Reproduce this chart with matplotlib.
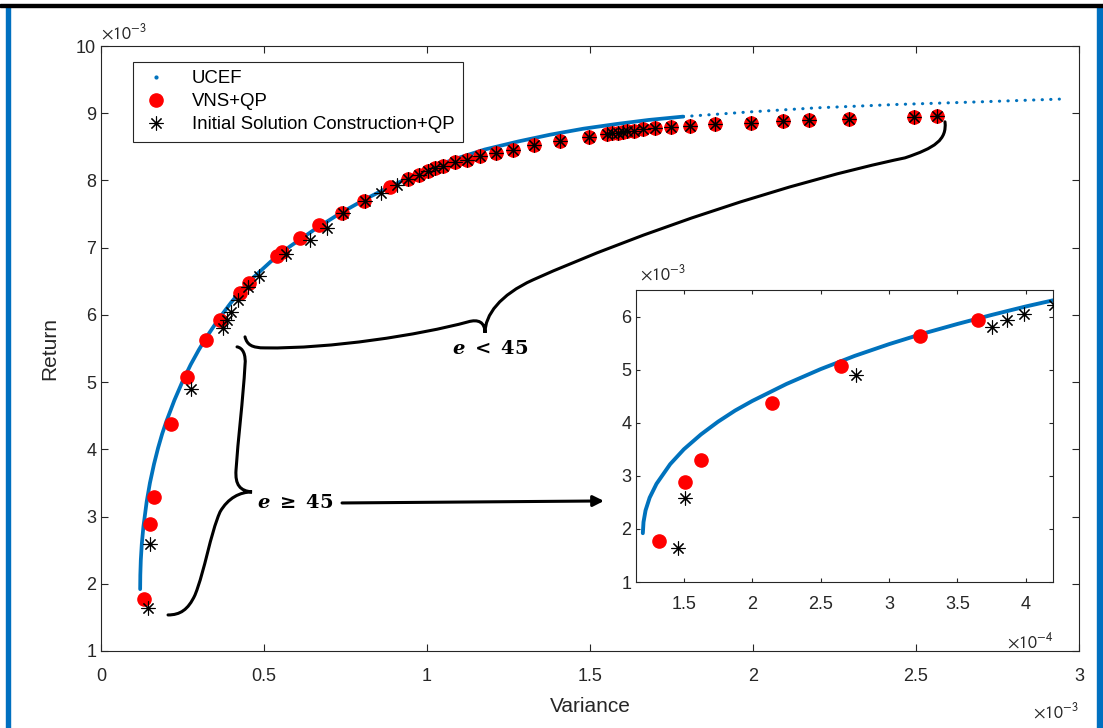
import numpy as np
import matplotlib.pyplot as plt
from matplotlib.path import Path
from matplotlib.patches import PathPatch, Rectangle
from matplotlib.lines import Line2D
from matplotlib.ticker import FuncFormatter

plt.rcParams['font.family'] = ['Liberation Sans', 'DejaVu Sans']
plt.rcParams['mathtext.fontset'] = 'custom'
plt.rcParams['mathtext.rm'] = 'DejaVu Serif:bold'
plt.rcParams['mathtext.it'] = 'DejaVu Serif:bold:italic'
plt.rcParams['mathtext.bf'] = 'DejaVu Serif:bold'

# UCEF frontier (variance, return)
ucef_var = np.array([0.1200, 0.1205, 0.1220, 0.1250, 0.1300, 0.1400, 0.1500, 0.1625,
                     0.1750, 0.1875, 0.2000, 0.2250, 0.2500, 0.2750, 0.3000, 0.3250,
                     0.3500, 0.3750, 0.4000, 0.4207, 0.457, 0.520, 0.580, 0.655,
                     0.733, 0.810, 0.887, 0.989, 1.080, 1.177, 1.280, 1.377,
                     1.480, 1.582, 1.680, 1.786, 1.991, 2.195, 2.440, 2.700,
                     2.940]) * 1e-3
ucef_ret = np.array([1.92, 2.13, 2.35, 2.59, 2.85, 3.22, 3.50, 3.78,
                     4.02, 4.23, 4.41, 4.73, 5.01, 5.26, 5.48, 5.68,
                     5.86, 6.03, 6.19, 6.31, 6.51, 6.79, 7.02, 7.27,
                     7.51, 7.72, 7.91, 8.14, 8.31, 8.46, 8.58, 8.68,
                     8.77, 8.84, 8.90, 8.95, 9.02, 9.08, 9.13, 9.17,
                     9.21]) * 1e-3
solid_end = 36  # dense part drawn as a line, rest as dots

# VNS+QP
vns_var = np.array([0.132, 0.151, 0.1625, 0.2145, 0.265, 0.323, 0.365, 0.426, 0.455,
                    0.541, 0.554, 0.610, 0.670, 0.738, 0.808, 0.887, 0.943, 0.975,
                    1.002, 1.025, 1.050, 1.086, 1.122, 1.162, 1.211, 1.264, 1.328,
                    1.409, 1.497, 1.551, 1.568, 1.585, 1.600, 1.615, 1.634, 1.664,
                    1.700, 1.748, 1.806, 1.884, 1.995, 2.091, 2.173, 2.296, 2.494,
                    2.565]) * 1e-3
vns_ret = np.array([1.78, 2.89, 3.29, 4.38, 5.07, 5.625, 5.93, 6.33, 6.47,
                    6.87, 6.94, 7.14, 7.34, 7.52, 7.70, 7.90, 8.02, 8.08,
                    8.14, 8.18, 8.22, 8.27, 8.31, 8.36, 8.41, 8.46, 8.52,
                    8.58, 8.65, 8.69, 8.70, 8.71, 8.72, 8.73, 8.74, 8.76,
                    8.78, 8.79, 8.81, 8.84, 8.86, 8.89, 8.90, 8.92, 8.95,
                    8.96]) * 1e-3

# Initial Solution Construction+QP
isc_var = np.array([0.1456, 0.1507, 0.2761, 0.3756, 0.3861, 0.3988, 0.4207, 0.452,
                    0.485, 0.567, 0.641, 0.692, 0.742, 0.810, 0.858, 0.909, 0.943,
                    0.975, 1.002, 1.025, 1.050, 1.086, 1.122, 1.162, 1.211, 1.264,
                    1.328, 1.409, 1.497, 1.551, 1.568, 1.585, 1.600, 1.615, 1.634,
                    1.664, 1.700, 1.748, 1.806, 1.884, 1.995, 2.091, 2.173, 2.296,
                    2.494, 2.565]) * 1e-3
isc_ret = np.array([1.64, 2.59, 4.90, 5.81, 5.93, 6.04, 6.22, 6.41,
                    6.58, 6.91, 7.12, 7.30, 7.51, 7.69, 7.81, 7.93, 8.02,
                    8.08, 8.14, 8.18, 8.22, 8.27, 8.31, 8.36, 8.41, 8.46,
                    8.52, 8.58, 8.65, 8.69, 8.70, 8.71, 8.72, 8.73, 8.74,
                    8.76, 8.78, 8.79, 8.81, 8.84, 8.86, 8.89, 8.90, 8.92,
                    8.95, 8.96]) * 1e-3

blue = '#0072BD'
grey = '#262626'
ast = (8, 2, 0)

fig = plt.figure(figsize=(11.03, 7.28), dpi=100)

# frame around the figure
fig.patches.append(Rectangle((0.0054, 0), 0.0036, 0.99, transform=fig.transFigure,
                             color='#0070C0', zorder=0))
fig.patches.append(Rectangle((0.9950, 0), 0.0050, 0.99, transform=fig.transFigure,
                             color='#0070C0', zorder=0))
fig.patches.append(Rectangle((0, 0.990), 1, 0.0045, transform=fig.transFigure,
                             color='black', zorder=0))


def style_axes(ax, size, ticklen):
    for s in ax.spines.values():
        s.set_color(grey)
        s.set_linewidth(0.8)
    ax.tick_params(direction='in', top=True, right=True, colors=grey,
                   labelsize=size, length=ticklen, width=0.8)


ax = fig.add_axes([0.0916, 0.1058, 0.8866, 0.831])
ax.plot(ucef_var[:solid_end], ucef_ret[:solid_end], color=blue, lw=2.7,
        solid_capstyle='round', solid_joinstyle='round', zorder=2)
ax.plot(ucef_var[solid_end - 1:], ucef_ret[solid_end - 1:], color=blue, lw=2.2,
        linestyle=(0, (0.1, 2.7)), dash_capstyle='round', zorder=2)
ax.plot(vns_var, vns_ret, 'o', color='red', ms=9.5, mec='red', zorder=3)
ax.plot(isc_var, isc_ret, linestyle='none', marker=ast, color='black', ms=10,
        mew=0.8, zorder=4)
ax.set_xlim(0, 3e-3)
ax.set_ylim(1e-3, 10e-3)
ax.set_xticks(np.arange(0, 3.01e-3, 0.5e-3))
ax.set_yticks(np.arange(1e-3, 10.01e-3, 1e-3))
ax.xaxis.set_major_formatter(FuncFormatter(lambda x, p: f'{x * 1e3:g}'))
ax.yaxis.set_major_formatter(FuncFormatter(lambda y, p: f'{y * 1e3:g}'))
style_axes(ax, 13, 5)
ax.tick_params(axis='x', pad=12)
ax.set_xlabel('Variance', fontsize=15, color=grey, labelpad=9)
ax.set_ylabel('Return', fontsize=15, color=grey, labelpad=12)
ax.text(0.0, 1.005, r'$\times10^{-3}$', transform=ax.transAxes, ha='left', va='bottom',
        fontsize=13, color=grey, math_fontfamily='stixsans')
ax.text(1.0, -0.085, r'$\times10^{-3}$', transform=ax.transAxes, ha='right', va='top',
        fontsize=13, color=grey, math_fontfamily='stixsans')

handles = [Line2D([], [], marker='.', color=blue, ls='none', ms=4),
           Line2D([], [], marker='o', color='red', ls='none', ms=9.5),
           Line2D([], [], marker=ast, color='black', ls='none', ms=10, mew=0.8)]
leg = ax.legend(handles, ['UCEF', 'VNS+QP', 'Initial Solution Construction+QP'],
                loc='upper left', bbox_to_anchor=(0.0327, 0.9736), borderaxespad=0,
                fontsize=13.4, frameon=True, fancybox=False, framealpha=1,
                edgecolor=grey, handlelength=1.6, handletextpad=1.1,
                labelspacing=0.32, borderpad=0.45)
leg.get_frame().set_linewidth(0.8)

# curly braces and labels (main axes data coordinates, units of 1e-3)
M, C = Path.MOVETO, Path.CURVE4
brace_lt = [(0.4417, 5.673), (0.4479, 5.554), (0.4632, 5.509), (0.5031, 5.509),
            (0.7025, 5.494), (0.9785, 5.702), (1.1258, 5.896),
            (1.1564, 5.940), (1.1779, 5.896), (1.1779, 5.732),
            (1.1779, 6.000), (1.2239, 6.298), (1.3252, 6.521),
            (1.6534, 7.235), (2.1135, 7.979), (2.4663, 8.336),
            (2.5583, 8.485), (2.5951, 8.604), (2.5890, 8.872)]
brace_ge = [(0.4172, 5.524), (0.4356, 5.509), (0.4448, 5.405), (0.4417, 5.256),
            (0.4356, 4.735), (0.4202, 4.140), (0.4141, 3.693),
            (0.4110, 3.470), (0.4264, 3.381), (0.4632, 3.366),
            (0.4264, 3.366), (0.3896, 3.277), (0.3650, 3.068),
            (0.3344, 2.726), (0.3190, 2.205), (0.2883, 1.833),
            (0.2669, 1.610), (0.2423, 1.536), (0.2055, 1.536)]
for pts in (brace_lt, brace_ge):
    verts = np.array(pts) * 1e-3
    codes = [M] + [C] * (len(pts) - 1)
    ax.add_patch(PathPatch(Path(verts, codes), fill=False, lw=2.2, color='black',
                           capstyle='round', zorder=5))

ax.text(1.1933e-3, 5.494e-3, r'$e\;<\;45$', ha='center', va='center', fontsize=14,
        color='black')
ax.text(0.5951e-3, 3.202e-3, r'$e\;\geq\;45$', ha='center', va='center', fontsize=14,
        color='black')
ax.annotate('', xy=(1.5429e-3, 3.232e-3), xytext=(0.7393e-3, 3.202e-3),
            arrowprops=dict(arrowstyle='-|>', lw=2.2, color='black', mutation_scale=16,
                            shrinkA=0, shrinkB=0))

# inset zoom of the low-variance part
ins = fig.add_axes([0.5766, 0.2005, 0.3781, 0.4011])
ins.plot(ucef_var, ucef_ret, color=blue, lw=2.8, solid_capstyle='round',
         solid_joinstyle='round', zorder=2)
ins.plot(vns_var, vns_ret, 'o', color='red', ms=9.5, zorder=3)
ins.plot(isc_var, isc_ret, linestyle='none', marker=ast, color='black', ms=10,
         mew=0.8, zorder=4)
ins.set_xlim(1.15e-4, 4.2e-4)
ins.set_ylim(1e-3, 6.5e-3)
ins.set_xticks(np.arange(1.5e-4, 4.01e-4, 0.5e-4))
ins.set_yticks(np.arange(1e-3, 6.01e-3, 1e-3))
ins.xaxis.set_major_formatter(FuncFormatter(lambda x, p: f'{x * 1e4:g}'))
ins.yaxis.set_major_formatter(FuncFormatter(lambda y, p: f'{y * 1e3:g}'))
style_axes(ins, 13, 3)
ins.tick_params(axis='x', pad=10)
ins.text(0.01, 1.02, r'$\times10^{-3}$', transform=ins.transAxes, ha='left', va='bottom',
         fontsize=13, color=grey, math_fontfamily='stixsans')
ins.text(1.0, -0.17, r'$\times10^{-4}$', transform=ins.transAxes, ha='right', va='top',
         fontsize=13, color=grey, math_fontfamily='stixsans')

fig.savefig('out.png', dpi=100)
